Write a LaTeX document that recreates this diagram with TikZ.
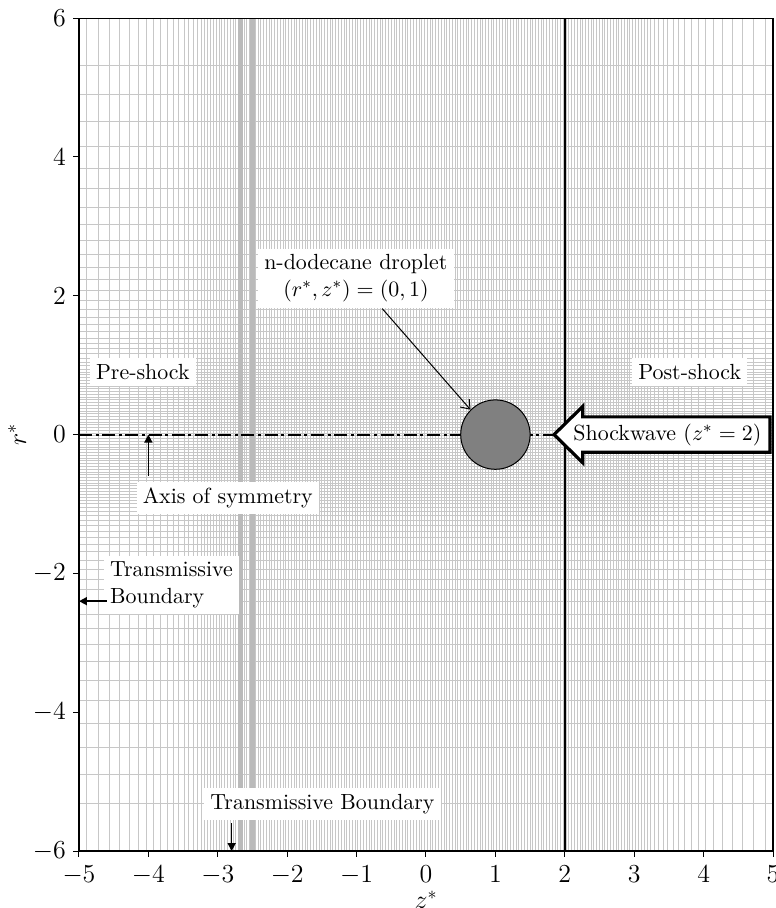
\documentclass[tikz,border=0pt]{standalone}
\usetikzlibrary{arrows.meta}
\tikzset{
 gridline/.style={line width=0.5pt, draw=black!22},
 gridband/.style={fill=black!27},
 lbl/.style={fill=white, inner sep=3pt, font=\fontsize{10.95}{13.5}\selectfont},
 ticklbl/.style={inner sep=0pt, font=\fontsize{14.4}{17}\selectfont, scale=0.9},
 filarrow/.style={line width=0.8pt, -{Triangle[length=4pt,width=4pt]}},
 droparrow/.style={line width=0.5pt, -{Straight Barb[length=4pt,width=6pt]}},
 axisline/.style={line width=1pt, dash pattern=on 6.5pt off 1.8pt on 1.5pt off 1.8pt},
}
\begin{document}
\begin{tikzpicture}[x=34.7pt,y=34.7pt]
\useasboundingbox (-6.138,-6.821) rectangle (5.043,6.262);
% vertical grid lines
\foreach \i in {0,...,155} {\draw[gridline] ({-3.1+0.04*\i},-6) -- ({-3.1+0.04*\i},6);}
\foreach \k in {1,...,19} {\pgfmathsetmacro\xx{3.1+0.54*(1.08^\k-1)}
  \draw[gridline] (\xx,-6) -- (\xx,6) (-\xx,-6) -- (-\xx,6);}
% horizontal grid lines
\foreach \i in {0,...,45} {\draw[gridline] (-5,{-0.9+0.04*\i}) -- (5,{-0.9+0.04*\i});}
\foreach \k in {1,...,26} {\pgfmathsetmacro\yy{0.9+0.461*(1.095^\k-1)}
  \draw[gridline] (-5,\yy) -- (5,\yy) (-5,-\yy) -- (5,-\yy);}
% dense bands
\fill[gridband] (-2.705,-6) rectangle (-2.633,6);
\fill[gridband] (-2.536,-6) rectangle (-2.464,6);
% axis of symmetry and shock position
\draw[axisline] (-5,0) -- (5,0);
\draw[line width=1pt] (2,-6) -- (2,6);
% droplet
\node[circle, draw, fill=black!50, minimum size=34.7pt, inner sep=0pt, line width=0.5pt] (drop) at (1,0) {};
% labels
\node[lbl] (pre) at (-4.08,0.9) {Pre-shock};
\node[lbl] (post) at (3.8,0.9) {Post-shock};
\node[lbl, align=center] (droplbl) at (-1.01,2.25) {n-dodecane droplet\\$(r^*,z^*)=(0,1)$};
\node[lbl] (axlbl) at (-2.856,-0.918) {Axis of symmetry};
\node[lbl, align=left] (tbleft) at (-3.667,-2.167) {Transmissive\\Boundary};
\node[lbl] (tbbot) at (-1.491,-5.326) {Transmissive Boundary};
% arrows
\draw[droparrow] (droplbl) -- (drop.135);
\coordinate (axtail) at (-4,-0.6);
\coordinate (axtip) at (-4,0);
\draw[filarrow] (axtail) -- (axtip);
\coordinate (tltail) at (-4.6,-2.4);
\coordinate (tltip) at (-5,-2.4);
\draw[filarrow] (tltail) -- (tltip);
\coordinate (tbtail) at (-2.8,-5.6);
\coordinate (tbtip) at (-2.8,-6);
\draw[filarrow] (tbtail) -- (tbtip);
% shockwave arrow box
\draw[line width=1.6pt, fill=white, miter limit=10] (1.845,0) -- (2.258,0.405) -- (2.258,0.255) -- (4.957,0.255) -- (4.957,-0.255) -- (2.258,-0.255) -- (2.258,-0.405) -- cycle;
\node[inner sep=0pt, font=\fontsize{10.95}{13.5}\selectfont] (shocktxt) at (3.478,0) {Shockwave ($z^*=2$)};
% frame and ticks
\draw[line width=0.6pt] (-5,-6) rectangle (5,6);
\foreach \x in {-5,...,5} {\draw[line width=0.5pt] (\x,-6) -- ++(0,-2.8pt) node[ticklbl, anchor=north, yshift=-5pt] (xt\x) {$\x$};}
\foreach \y in {-6,-4,...,6} {\draw[line width=0.5pt] (-5,\y) -- ++(-2.8pt,0) node[ticklbl, anchor=east, xshift=-4pt] (yt\y) {$\y$};}
\node[ticklbl] (zlbl) at (0,-6.7) {$z^*$};
\node[ticklbl, rotate=90] (rlbl) at (-5.89,0) {$r^*$};
\end{tikzpicture}
\end{document}
